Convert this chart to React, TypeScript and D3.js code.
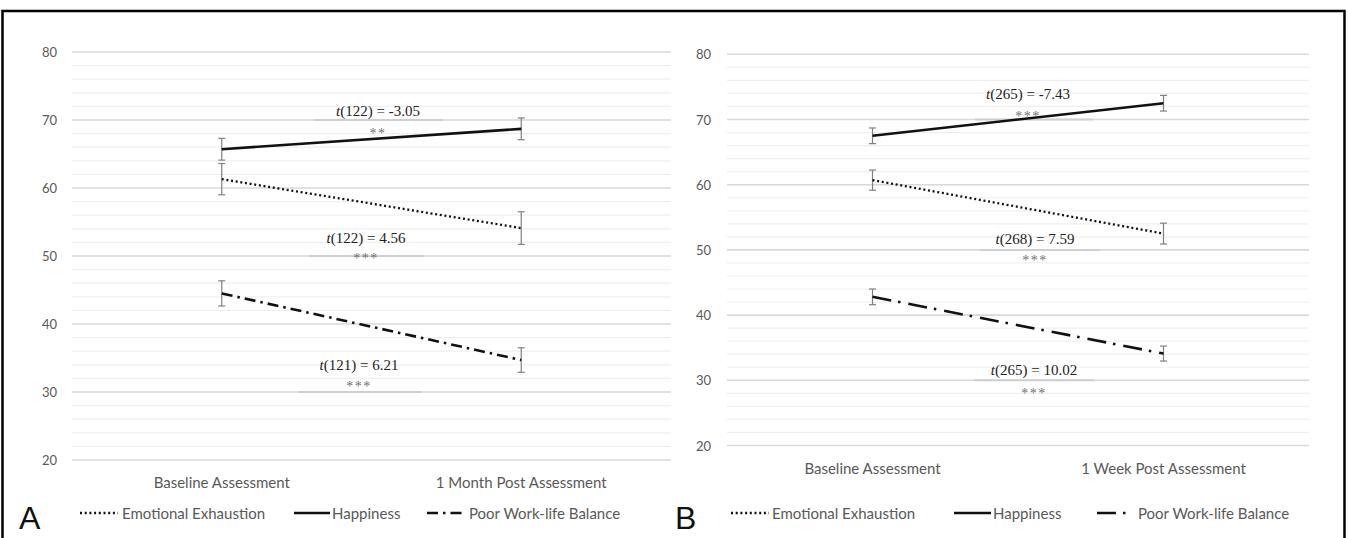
import React, { useEffect, useRef } from "react";
import * as d3 from "d3";

// values
const categoriesA = ["Baseline Assessment", "1 Month Post Assessment"];
const categoriesB = ["Baseline Assessment", "1 Week Post Assessment"];
const seriesNames = ["Emotional Exhaustion", "Happiness", "Poor Work-life Balance"];

const exhaustionA = [61.3, 54.1];
const exhaustionErrA = [2.3, 2.4];
const happinessA = [65.7, 68.7];
const happinessErrA = [1.6, 1.6];
const workLifeA = [44.5, 34.7];
const workLifeErrA = [1.85, 1.8];

const exhaustionB = [60.7, 52.5];
const exhaustionErrB = [1.55, 1.6];
const happinessB = [67.5, 72.5];
const happinessErrB = [1.2, 1.2];
const workLifeB = [42.8, 34.1];
const workLifeErrB = [1.2, 1.15];

const yTicks = [20, 30, 40, 50, 60, 70, 80];
const tLabelsA = ["(122) = -3.05", "(122) = 4.56", "(121) = 6.21"];
const starsA = ["**", "***", "***"];
const tLabelsB = ["(265) = -7.43", "(268) = 7.59", "(265) = 10.02"];
const starsB = ["***", "***", "***"];

const SANS = "Lato, 'Open Sans', sans-serif";
const SERIF = "'Liberation Serif', 'Times New Roman', serif";
const TXT = "#595959";

const panels = [
  {
    letter: "A",
    letterX: 19,
    cats: categoriesA,
    series: [
      { v: exhaustionA, e: exhaustionErrA },
      { v: happinessA, e: happinessErrA },
      { v: workLifeA, e: workLifeErrA },
    ],
    x0: 72, x1: 671, yTop: 52, yBot: 460, catY: 482, labelX: 57,
    dashDot: "11 5 2.5 5",
    legend: [[80, 118, 122], [294, 330, 332], [427, 466, 469]],
    tLabels: tLabelsA, stars: starsA,
    notes: [
      { cx: 378, rule: 70, r0: 314, r1: 443, tDy: -4, sDy: 13 },
      { cx: 366, rule: 50, r0: 309, r1: 424, tDy: -13, sDy: 2 },
      { cx: 359, rule: 30, r0: 299, r1: 421, tDy: -22, sDy: -6 },
    ],
  },
  {
    letter: "B",
    letterX: 675,
    cats: categoriesB,
    series: [
      { v: exhaustionB, e: exhaustionErrB },
      { v: happinessB, e: happinessErrB },
      { v: workLifeB, e: workLifeErrB },
    ],
    x0: 727, x1: 1309, yTop: 54.3, yBot: 445.5, catY: 468, labelX: 711,
    dashDot: "19 7 2.5 8",
    legend: [[731, 769, 772], [954, 991, 993], [1097, 1130, 1138]],
    tLabels: tLabelsB, stars: starsB,
    notes: [
      { cx: 1028, rule: 70, r0: 975, r1: 1093, tDy: -21, sDy: -4 },
      { cx: 1035, rule: 50, r0: 980, r1: 1100, tDy: -6, sDy: 10 },
      { cx: 1034, rule: 30, r0: 974, r1: 1094, tDy: -5, sDy: 13 },
    ],
  },
];

const App = () => {
  const ref = useRef(null);

  useEffect(() => {
    const svg = d3.select(ref.current);
    svg.selectAll("*").remove();

    svg.append("rect")
      .attr("x", 2.5).attr("y", 11).attr("width", 1342).attr("height", 540)
      .attr("fill", "white").attr("stroke", "black").attr("stroke-width", 2.5);

    panels.forEach(p => {
      const g = svg.append("g");
      const x = d3.scalePoint().domain(p.cats).range([p.x0, p.x1]).padding(0.5);
      const y = d3.scaleLinear().domain([20, 80]).range([p.yBot, p.yTop]);

      // minor then major gridlines
      const minor = d3.range(22, 80, 2).filter(v => v % 10 !== 0);
      g.selectAll("line.minor").data(minor).enter().append("line")
        .attr("x1", p.x0).attr("x2", p.x1)
        .attr("y1", d => y(d)).attr("y2", d => y(d))
        .attr("stroke", "#efefef").attr("stroke-width", 1.2);
      g.selectAll("line.major").data(yTicks).enter().append("line")
        .attr("x1", p.x0).attr("x2", p.x1)
        .attr("y1", d => y(d)).attr("y2", d => y(d))
        .attr("stroke", "#d9d9d9").attr("stroke-width", 1.6);

      g.selectAll("text.ytick").data(yTicks).enter().append("text")
        .attr("x", p.labelX).attr("y", d => y(d))
        .attr("text-anchor", "end").attr("dominant-baseline", "central")
        .attr("font-family", SANS).attr("font-size", 13).attr("fill", TXT)
        .text(d => d);

      g.selectAll("text.cat").data(p.cats).enter().append("text")
        .attr("x", d => x(d)).attr("y", p.catY)
        .attr("text-anchor", "middle").attr("dominant-baseline", "central")
        .attr("font-family", SANS).attr("font-size", 15).attr("fill", TXT)
        .text(d => d);

      // annotation rules (drawn under the lines)
      p.notes.forEach(n => {
        g.append("line")
          .attr("x1", n.r0).attr("x2", n.r1)
          .attr("y1", y(n.rule)).attr("y2", y(n.rule))
          .attr("stroke", "#cfcfcf").attr("stroke-width", 2);
      });

      // error bars
      p.series.forEach(s => {
        s.v.forEach((v, i) => {
          const cx = x(p.cats[i]);
          const eb = g.append("g").attr("stroke", "#808080").attr("stroke-width", 1.2);
          eb.append("line").attr("x1", cx).attr("x2", cx)
            .attr("y1", y(v - s.e[i])).attr("y2", y(v + s.e[i]));
          [v - s.e[i], v + s.e[i]].forEach(t => {
            eb.append("line").attr("x1", cx - 3.5).attr("x2", cx + 3.5)
              .attr("y1", y(t)).attr("y2", y(t));
          });
        });
      });

      const styles = [
        { dash: "2 2.7", w: 2.3 },
        { dash: null, w: 2.6 },
        { dash: p.dashDot, w: 2.6 },
      ];
      const line = d3.line<number>().x((d, i) => x(p.cats[i])).y(d => y(d));
      p.series.forEach((s, k) => {
        g.append("path")
          .attr("d", line(s.v))
          .attr("fill", "none").attr("stroke", "#111")
          .attr("stroke-width", styles[k].w)
          .attr("stroke-dasharray", styles[k].dash);
      });

      // t statistics
      p.notes.forEach((n, k) => {
        const t = g.append("text")
          .attr("x", n.cx).attr("y", y(n.rule) + n.tDy)
          .attr("text-anchor", "middle")
          .attr("font-family", SERIF).attr("font-size", 15).attr("fill", "#222");
        t.append("tspan").attr("font-style", "italic").text("t");
        t.append("tspan").text(p.tLabels[k]);
        g.append("text")
          .attr("x", n.cx).attr("y", y(n.rule) + n.sDy + 5)
          .attr("text-anchor", "middle")
          .attr("font-family", SERIF).attr("font-size", 14).attr("fill", "#707070")
          .attr("letter-spacing", 1.5)
          .text(p.stars[k]);
      });

      // legend
      const legY = 513;
      p.legend.forEach((L, k) => {
        g.append("line")
          .attr("x1", L[0]).attr("x2", L[1]).attr("y1", legY).attr("y2", legY)
          .attr("stroke", "#111").attr("stroke-width", styles[k].w)
          .attr("stroke-dasharray", styles[k].dash);
        g.append("text")
          .attr("x", L[2]).attr("y", legY)
          .attr("dominant-baseline", "central")
          .attr("font-family", SANS).attr("font-size", 15).attr("fill", TXT)
          .text(seriesNames[k]);
      });

      g.append("text")
        .attr("x", p.letterX).attr("y", 529)
        .attr("font-family", "'Liberation Sans', Arial, sans-serif")
        .attr("font-size", 32).attr("fill", "#111")
        .text(p.letter);
    });
  }, []);

  return (
    <div style={{ position: "absolute", left: 0, top: 0 }}>
      <svg ref={ref} width={1348} height={538} style={{ display: "block" }} />
    </div>
  );
};

export default App;
